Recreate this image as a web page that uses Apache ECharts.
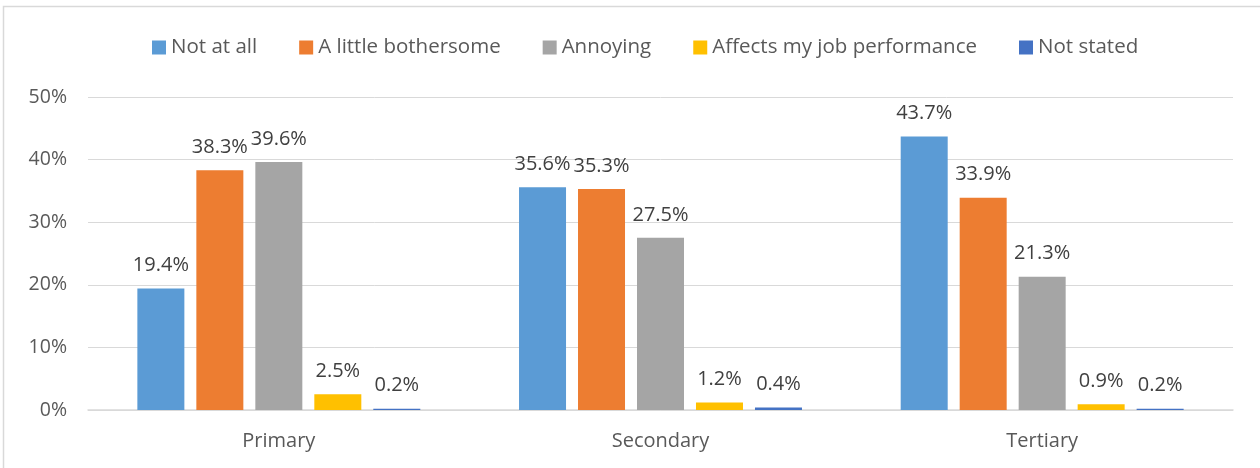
<!DOCTYPE html>
<html><head><meta charset="utf-8">
<script src="https://cdn.jsdelivr.net/npm/echarts@6/dist/echarts.min.js"></script>
<style>html,body{margin:0;padding:0;background:#fff}#c{width:1260px;height:468px}</style>
</head><body><div id="c"></div>
<script>
const categories = ['Primary', 'Secondary', 'Tertiary'];
const seriesNames = ['Not at all', 'A little bothersome', 'Annoying', 'Affects my job performance', 'Not stated'];
const notAtAll = [19.4, 35.6, 43.7];
const littleBothersome = [38.3, 35.3, 33.9];
const annoying = [39.6, 27.5, 21.3];
const affectsJob = [2.5, 1.2, 0.9];
const notStated = [0.2, 0.4, 0.2];
const colors = ['#5B9BD5', '#ED7D31', '#A5A5A5', '#FFC000', '#4472C4'];
const FONT = '"Open Sans", "Liberation Sans", sans-serif';
const values = [notAtAll, littleBothersome, annoying, affectsJob, notStated];

const chart = echarts.init(document.getElementById('c'), null, {renderer: 'canvas'});
chart.setOption({
  animation: false,
  color: colors,
  graphic: [{type: 'rect', shape: {x: 3.5, y: 6.5, width: 1300, height: 500}, style: {fill: 'none', stroke: '#d9d9d9', lineWidth: 1.5}, silent: true}],
  legend: {
    top: 32, left: 147, itemWidth: 14, itemHeight: 14, itemGap: 42,
    icon: 'rect',
    textStyle: {fontFamily: FONT, fontSize: 20.5, color: '#595959'},
    data: seriesNames
  },
  grid: {left: 88, right: 27, top: 97, bottom: 58, containLabel: false},
  xAxis: {
    type: 'category', data: categories,
    axisLine: {lineStyle: {color: '#d9d9d9', width: 1.5}},
    axisTick: {show: false},
    axisLabel: {fontFamily: FONT, fontSize: 20, color: '#595959', margin: 21}
  },
  yAxis: {
    type: 'value', min: 0, max: 50, interval: 10,
    axisLabel: {formatter: '{value}%', fontFamily: FONT, fontSize: 19.5, color: '#595959', margin: 21},
    splitLine: {lineStyle: {color: '#d9d9d9', width: 1}},
    axisLine: {show: false}, axisTick: {show: false}
  },
  series: seriesNames.map((n, i) => ({
    name: n, type: 'bar', data: values[i],
    barWidth: 47, barGap: '25.5%',
    label: {show: true, position: 'top', distance: 13, formatter: p => p.value.toFixed(1) + '%',
      fontFamily: FONT, fontSize: 20, color: '#404040'}
  }))
});
</script></body></html>
